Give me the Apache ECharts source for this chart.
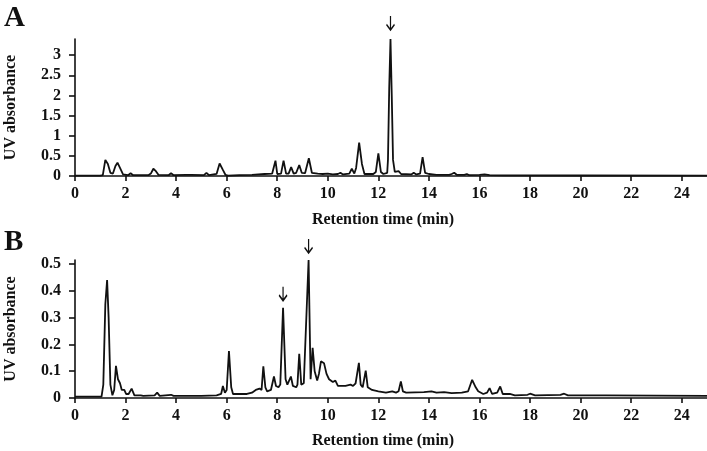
<!DOCTYPE html>
<html>
<head>
<meta charset="utf-8">
<script src="https://cdn.jsdelivr.net/npm/echarts@6/dist/echarts.min.js"></script>
<style>html,body{margin:0;padding:0;background:#fff}#c{width:707px;height:451px}</style>
</head>
<body>
<div id="c"></div>
<script>
// Panel A chromatogram (retention time in min, UV absorbance)
var timeA = [0,1.0,1.1,1.2,1.3,1.4,1.5,1.6,1.68,1.78,1.9,2.1,2.2,2.3,2.9,3.0,3.1,3.2,3.3,3.7,3.8,3.9,4.4,4.6,5.1,5.2,5.3,5.6,5.72,5.85,5.95,6.05,6.5,7.0,7.5,7.8,7.85,7.93,8.0,8.15,8.25,8.35,8.45,8.55,8.65,8.75,8.87,8.97,9.1,9.25,9.37,9.6,9.8,10.0,10.2,10.4,10.5,10.6,10.85,10.95,11.05,11.12,11.24,11.35,11.45,11.8,11.9,12.0,12.1,12.2,12.35,12.38,12.43,12.48,12.53,12.58,12.65,12.72,12.8,12.9,13.3,13.4,13.5,13.65,13.75,13.85,14.0,14.3,14.8,14.9,15.0,15.1,15.4,15.5,15.6,16.0,16.2,16.4,17,20,25];
var absA  = [0.01,0.01,0.02,0.40,0.30,0.08,0.06,0.25,0.33,0.20,0.04,0.02,0.07,0.02,0.02,0.06,0.18,0.12,0.03,0.02,0.07,0.02,0.03,0.03,0.02,0.08,0.02,0.05,0.31,0.15,0.03,0.01,0.02,0.03,0.05,0.06,0.05,0.38,0.05,0.06,0.38,0.06,0.06,0.22,0.06,0.08,0.27,0.08,0.07,0.44,0.08,0.06,0.05,0.06,0.04,0.05,0.08,0.04,0.06,0.18,0.06,0.20,0.83,0.30,0.05,0.05,0.10,0.56,0.10,0.05,0.08,0.4,2.2,3.4,2.0,0.4,0.1,0.06,0.12,0.05,0.04,0.08,0.04,0.06,0.47,0.08,0.05,0.03,0.03,0.05,0.08,0.03,0.03,0.05,0.02,0.03,0.04,0.02,0.015,0.012,0.01];

// Panel B chromatogram
var timeB = [0,1.05,1.12,1.2,1.27,1.33,1.4,1.48,1.55,1.62,1.7,1.78,1.85,1.95,2.02,2.12,2.24,2.35,2.6,2.7,3.15,3.25,3.35,3.8,3.9,5.0,5.6,5.78,5.85,5.93,6.0,6.09,6.18,6.25,6.8,7.0,7.15,7.3,7.38,7.45,7.53,7.6,7.75,7.87,7.95,8.05,8.12,8.23,8.33,8.4,8.47,8.54,8.62,8.75,8.8,8.87,8.95,9.05,9.12,9.24,9.32,9.4,9.48,9.58,9.65,9.73,9.85,9.95,10.05,10.2,10.3,10.4,10.7,10.9,11.0,11.1,11.15,11.23,11.3,11.38,11.5,11.58,11.75,12.0,12.3,12.55,12.7,12.8,12.89,12.97,13.1,13.8,14.1,14.3,14.6,14.9,15.3,15.55,15.71,15.85,15.95,16.15,16.3,16.4,16.5,16.7,16.82,16.92,17.2,17.4,17.9,18.0,18.2,19.2,19.35,19.5,21,25];
var absB  = [0.005,0.005,0.05,0.35,0.44,0.30,0.05,0.01,0.03,0.12,0.07,0.055,0.03,0.03,0.015,0.015,0.035,0.01,0.01,0.008,0.01,0.02,0.008,0.012,0.008,0.008,0.01,0.015,0.045,0.02,0.03,0.175,0.04,0.015,0.015,0.02,0.03,0.035,0.03,0.118,0.04,0.025,0.03,0.08,0.045,0.04,0.05,0.337,0.07,0.05,0.055,0.08,0.045,0.04,0.05,0.165,0.05,0.055,0.06,0.515,0.07,0.187,0.1,0.065,0.09,0.137,0.13,0.09,0.07,0.06,0.065,0.045,0.045,0.05,0.045,0.055,0.05,0.131,0.05,0.04,0.102,0.04,0.03,0.025,0.02,0.025,0.02,0.025,0.062,0.025,0.02,0.022,0.025,0.02,0.022,0.018,0.02,0.025,0.068,0.04,0.025,0.015,0.02,0.037,0.015,0.02,0.043,0.015,0.015,0.01,0.012,0.016,0.01,0.012,0.016,0.01,0.01,0.008];

var xTicks = [0,2,4,6,8,10,12,14,16,18,20,22,24];
var yTicksA = [0,0.5,1,1.5,2,2.5,3];
var yTicksB = [0,0.1,0.2,0.3,0.4,0.5];
var arrowsA = [[12.48,3.4]];
var arrowsB = [[8.23,0.337],[9.24,0.515]];

function pairs(t,v){ return t.map(function(x,i){ return [x, v[i]]; }); }

var FONT = 'Liberation Serif';
var INK = '#111';
var txt = {fontFamily: FONT, fontWeight: 'bold', color: INK, fontSize: 16};
var arrowPath = 'path://M4,0 L4,14 M0.5,8.5 L4,14 L7.5,8.5';

function xAxis(idx){
  return {
    type:'value', gridIndex: idx, min:0, max:25,
    axisLine:{show:true, onZero:false, lineStyle:{color:INK, width:1.6}},
    axisTick:{show:true, customValues:xTicks, length:5, lineStyle:{color:INK, width:1.6}},
    axisLabel:Object.assign({customValues:xTicks, margin:10, hideOverlap:false}, txt),
    splitLine:{show:false}
  };
}
function yAxis(idx, max, ticks){
  return {
    type:'value', gridIndex: idx, min:0, max:max,
    name:'UV absorbance', nameLocation:'middle', nameGap:56, nameRotate:90,
    nameTextStyle: Object.assign({}, txt),
    axisLine:{show:true, lineStyle:{color:INK, width:1.6}},
    axisTick:{show:true, customValues:ticks, length:6, lineStyle:{color:INK, width:1.6}},
    axisLabel:Object.assign({customValues:ticks, margin:14}, txt),
    splitLine:{show:false}
  };
}

var chart = echarts.init(document.getElementById('c'), null, {renderer:'canvas'});
chart.setOption({
  backgroundColor:'#fff',
  animation:false,
  grid:[
    {left:75, top:39, width:632, height:137, containLabel:false, outerBoundsMode:'none'},
    {left:75, top:260, width:632, height:138, containLabel:false, outerBoundsMode:'none'}
  ],
  xAxis:[xAxis(0), xAxis(1)],
  yAxis:[yAxis(0,3.4,yTicksA), yAxis(1,0.515,yTicksB)],
  graphic:[
    {type:'text', left:4, top:4, style:{text:'A', font:'bold 29px "Liberation Serif"', fill:INK}},
    {type:'text', left:4, top:228, style:{text:'B', font:'bold 29px "Liberation Serif"', fill:INK}},
    {type:'text', x:383, y:220, style:{text:'Retention time (min)', font:'bold 16px "Liberation Serif"', fill:INK, align:'center', verticalAlign:'middle'}},
    {type:'text', x:383, y:441, style:{text:'Retention time (min)', font:'bold 16px "Liberation Serif"', fill:INK, align:'center', verticalAlign:'middle'}}
  ],
  series:[
    {type:'line', xAxisIndex:0, yAxisIndex:0, data:pairs(timeA,absA), showSymbol:false, clip:false,
     lineStyle:{color:INK, width:1.8}, itemStyle:{color:INK},
     markPoint:{symbol:arrowPath, symbolSize:[8,14], symbolOffset:[0,-16], label:{show:false},
       itemStyle:{color:'rgba(0,0,0,0)', borderColor:INK, borderWidth:1.6},
       data:arrowsA.map(function(p){return {coord:p};})}},
    {type:'line', xAxisIndex:1, yAxisIndex:1, data:pairs(timeB,absB), showSymbol:false, clip:false,
     lineStyle:{color:INK, width:1.8}, itemStyle:{color:INK},
     markPoint:{symbol:arrowPath, symbolSize:[8,14], symbolOffset:[0,-14], label:{show:false},
       itemStyle:{color:'rgba(0,0,0,0)', borderColor:INK, borderWidth:1.6},
       data:arrowsB.map(function(p){return {coord:p};})}}
  ]
});
</script>
</body>
</html>
